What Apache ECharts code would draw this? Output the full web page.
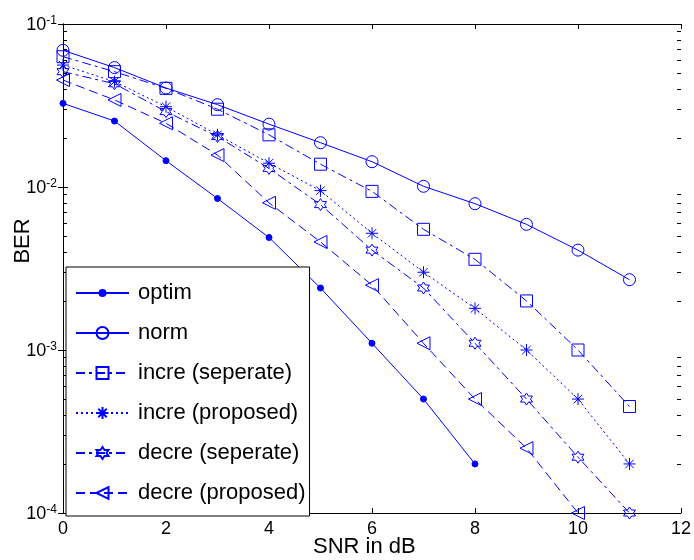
<!DOCTYPE html>
<html>
<head>
<meta charset="utf-8">
<script src="https://cdn.jsdelivr.net/npm/echarts@6/dist/echarts.min.js"></script>
<style>
  html, body { margin: 0; padding: 0; background: #fff; }
  #chart { width: 694px; height: 560px; }
</style>
</head>
<body>
<div id="chart"></div>
<script>
// SNR points (dB)
const snr = [0, 1, 2, 3, 4, 5, 6, 7, 8, 9, 10, 11];

// Bit error rate per scheme
const optim      = [0.0326, 0.0254, 0.0145, 0.0085, 0.0049, 0.0024, 0.0011, 0.0005, 0.0002];
const norm       = [0.069, 0.054, 0.0405, 0.032, 0.0243, 0.0187, 0.0143, 0.0101, 0.0079, 0.0059, 0.0041, 0.0027];
const increSep   = [0.063, 0.051, 0.0403, 0.030, 0.0209, 0.0138, 0.0094, 0.0055, 0.0036, 0.0020, 0.0010, 0.00045];
const increProp  = [0.056, 0.0443, 0.0311, 0.0209, 0.0140, 0.0095, 0.0052, 0.0030, 0.0018, 0.0010, 0.0005, 0.0002];
const decreSep   = [0.051, 0.043, 0.029, 0.0204, 0.0130, 0.0078, 0.0041, 0.0024, 0.0011, 0.0005, 0.00022, 0.0001];
const decreProp  = [0.0453, 0.0342, 0.0246, 0.0157, 0.0080, 0.0046, 0.0025, 0.0011, 0.0005, 0.00025, 0.0001];

const seriesNames = ['optim', 'norm', 'incre (seperate)', 'incre (proposed)', 'decre (seperate)', 'decre (proposed)'];

// Axis labels
const xTitle = 'SNR in dB';
const yTitle = 'BER';

const BLUE = '#0000ff';
const FONT = '"Liberation Sans", Arial, sans-serif';

// Marker outlines (unfilled, MATLAB style)
const hexPts = [];
for (let i = 0; i < 12; i++) {
  const r = i % 2 === 0 ? 10 : 10 / Math.sqrt(3);
  const a = (-90 + i * 30) * Math.PI / 180;
  hexPts.push((r * Math.cos(a)).toFixed(2) + ',' + (r * Math.sin(a)).toFixed(2));
}
const SYM = {
  dot: 'path://M-10,-10M10,10M5,0A5,5,0,1,1,-5,0A5,5,0,1,1,5,0Z',
  circle: 'path://M10,0A10,10,0,1,1,-10,0A10,10,0,1,1,10,0Z',
  square: 'path://M-10,-10L10,-10L10,10L-10,10Z',
  aster: 'path://M0,-10L0,10M-10,0L10,0M-7,-7L7,7M-7,7L7,-7',
  hexagram: 'path://M' + hexPts.join('L') + 'Z',
  triLeft: 'path://M-10,0L10,-11.5L10,11.5Z'
};

function pairs(ys) { return ys.map((y, i) => [snr[i], y]); }

function lineSeries(name, ys, symbol, size, dash, filled) {
  return {
    name: name,
    type: 'line',
    data: pairs(ys),
    symbol: symbol,
    symbolSize: size,
    showAllSymbol: true,
    clip: false,
    z: 3,
    lineStyle: { color: BLUE, width: 1, type: dash },
    itemStyle: { color: filled ? BLUE : 'none', borderColor: BLUE, borderWidth: 1 },
    emphasis: { disabled: true }
  };
}

// Minor ticks of the log axis (2..9 within each decade)
const minorTicks = [];
for (let e = -4; e <= -2; e++) {
  for (let k = 2; k <= 9; k++) minorTicks.push([0, k * Math.pow(10, e)]);
}

const chart = echarts.init(document.getElementById('chart'), null, { renderer: 'canvas' });

const yLabel = {
  margin: 6,
  formatter: v => '{b|10}{s|' + Math.round(Math.log10(v)) + '}',
  rich: {
    b: { fontSize: 18, lineHeight: 18, fontFamily: FONT, color: '#000', padding: [3, 0, 0, 0] },
    s: { fontSize: 12, lineHeight: 12, fontFamily: FONT, color: '#000', verticalAlign: 'top' }
  }
};

const axisLine = { show: true, lineStyle: { color: '#000', width: 1 } };
const tickIn = { show: true, inside: true, length: 5, lineStyle: { color: '#000', width: 1 } };

chart.setOption({
  backgroundColor: '#fff',
  animation: false,
  grid: { left: 63, right: 10, top: 24, bottom: 47 },
  xAxis: [
    {
      type: 'value', min: 0, max: 12, interval: 2, position: 'bottom',
      axisLine: axisLine, axisTick: tickIn, splitLine: { show: false },
      axisLabel: { fontSize: 18, fontFamily: FONT, color: '#000', margin: 7 }
    },
    {
      type: 'value', min: 0, max: 12, interval: 2, position: 'top',
      axisLine: axisLine, axisTick: tickIn, splitLine: { show: false },
      axisLabel: { show: false }
    }
  ],
  yAxis: [
    {
      type: 'log', logBase: 10, min: 1e-4, max: 1e-1, position: 'left',
      axisLine: axisLine, axisTick: tickIn, splitLine: { show: false },
      axisLabel: yLabel
    },
    {
      type: 'log', logBase: 10, min: 1e-4, max: 1e-1, position: 'right',
      axisLine: axisLine, axisTick: tickIn, splitLine: { show: false },
      axisLabel: { show: false }
    }
  ],
  legend: {
    data: seriesNames,
    orient: 'vertical',
    left: 66,
    top: 267,
    padding: [15, 4, 12, 9],
    itemGap: 18,
    itemWidth: 53,
    itemHeight: 15,
    backgroundColor: '#fff',
    borderColor: '#000',
    borderWidth: 1,
    borderRadius: 0,
    selectedMode: false,
    z: 10,
    textStyle: { fontSize: 22, lineHeight: 22, fontFamily: FONT, color: '#000', padding: [0, 0, 0, 4] }
  },
  graphic: [
    {
      type: 'text', left: 313, top: 536,
      style: { text: xTitle, fontSize: 22, fontFamily: FONT, fill: '#000' }
    },
    {
      type: 'text', x: 23, y: 241, rotation: Math.PI / 2,
      style: { text: yTitle, fontSize: 22, fontFamily: FONT, fill: '#000', align: 'center', verticalAlign: 'middle' }
    }
  ],
  series: [
    {
      type: 'custom',
      silent: true,
      z: 1,
      data: minorTicks,
      renderItem: (params, api) => {
        const v = api.value(1);
        const a = api.coord([0, v]);
        const b = api.coord([12, v]);
        const y = Math.round(a[1]) + 0.5;
        return {
          type: 'group',
          children: [
            { type: 'line', shape: { x1: a[0], y1: y, x2: a[0] + 4, y2: y }, style: { stroke: '#000', lineWidth: 1 } },
            { type: 'line', shape: { x1: b[0] - 4, y1: y, x2: b[0], y2: y }, style: { stroke: '#000', lineWidth: 1 } }
          ]
        };
      }
    },
    lineSeries(seriesNames[0], optim, SYM.dot, 12, 'solid', true),
    lineSeries(seriesNames[1], norm, SYM.circle, 12, 'solid', false),
    lineSeries(seriesNames[2], increSep, SYM.square, 12, [9, 4, 3, 4], false),
    lineSeries(seriesNames[3], increProp, SYM.aster, 12, [2, 3], false),
    lineSeries(seriesNames[4], decreSep, SYM.hexagram, 12, [9, 4, 3, 4], false),
    lineSeries(seriesNames[5], decreProp, SYM.triLeft, 13, [9, 5], false)
  ]
});
</script>
</body>
</html>
